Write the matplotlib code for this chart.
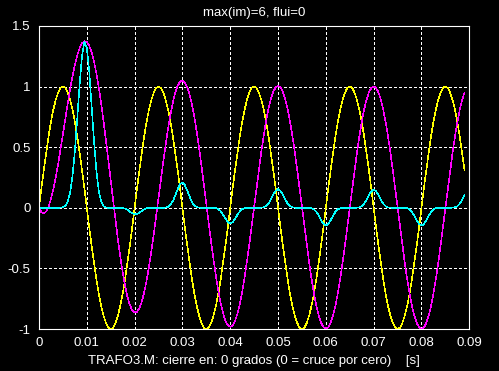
import numpy as np
import matplotlib
matplotlib.use("Agg")
import matplotlib.pyplot as plt

dt = 0.0005  # sampling step [s]

voltage = [
    0.0, 0.16, 0.31, 0.45, 0.59, 0.71, 0.81, 0.89, 0.95, 0.99, 1.0, 0.99, 0.95, 0.89, 0.81, 0.71, 0.59, 0.45, 0.31, 0.16,
    0.0, -0.16, -0.31, -0.45, -0.59, -0.71, -0.81, -0.89, -0.95, -0.99, -1.0, -0.99, -0.95, -0.89, -0.81, -0.71, -0.59, -0.45, -0.31, -0.16,
    0.0, 0.16, 0.31, 0.45, 0.59, 0.71, 0.81, 0.89, 0.95, 0.99, 1.0, 0.99, 0.95, 0.89, 0.81, 0.71, 0.59, 0.45, 0.31, 0.16,
    0.0, -0.16, -0.31, -0.45, -0.59, -0.71, -0.81, -0.89, -0.95, -0.99, -1.0, -0.99, -0.95, -0.89, -0.81, -0.71, -0.59, -0.45, -0.31, -0.16,
    0.0, 0.16, 0.31, 0.45, 0.59, 0.71, 0.81, 0.89, 0.95, 0.99, 1.0, 0.99, 0.95, 0.89, 0.81, 0.71, 0.59, 0.45, 0.31, 0.16,
    0.0, -0.16, -0.31, -0.45, -0.59, -0.71, -0.81, -0.89, -0.95, -0.99, -1.0, -0.99, -0.95, -0.89, -0.81, -0.71, -0.59, -0.45, -0.31, -0.16,
    0.0, 0.16, 0.31, 0.45, 0.59, 0.71, 0.81, 0.89, 0.95, 0.99, 1.0, 0.99, 0.95, 0.89, 0.81, 0.71, 0.59, 0.45, 0.31, 0.16,
    0.0, -0.16, -0.31, -0.45, -0.59, -0.71, -0.81, -0.89, -0.95, -0.99, -1.0, -0.99, -0.95, -0.89, -0.81, -0.71, -0.59, -0.45, -0.31, -0.16,
    0.0, 0.16, 0.31, 0.45, 0.59, 0.71, 0.81, 0.89, 0.95, 0.99, 1.0, 0.99, 0.95, 0.89, 0.81, 0.71, 0.59, 0.45, 0.31,
]

flux = [
    0.0, -0.037, -0.046, -0.030, 0.010, 0.072, 0.153, 0.251, 0.361, 0.482,
    0.607, 0.733, 0.858, 0.976, 1.085, 1.179, 1.258, 1.318, 1.358, 1.375,
    1.368, 1.338, 1.284, 1.208, 1.110, 0.994, 0.861, 0.713, 0.556, 0.391,
    0.223, 0.056, -0.107, -0.262, -0.405, -0.533, -0.644, -0.734, -0.801, -0.846,
    -0.865, -0.859, -0.829, -0.775, -0.698, -0.602, -0.488, -0.359, -0.218, -0.070,
    0.082, 0.234, 0.383, 0.525, 0.655, 0.771, 0.870, 0.949, 1.006, 1.040,
    1.050, 1.035, 0.996, 0.934, 0.850, 0.746, 0.625, 0.489, 0.342, 0.188,
    0.030, -0.127, -0.282, -0.428, -0.563, -0.683, -0.787, -0.870, -0.931, -0.969,
    -0.982, -0.971, -0.934, -0.875, -0.794, -0.693, -0.574, -0.441, -0.297, -0.144,
    0.011, 0.167, 0.319, 0.464, 0.597, 0.716, 0.817, 0.899, 0.958, 0.995,
    1.007, 0.994, 0.957, 0.897, 0.815, 0.712, 0.593, 0.459, 0.314, 0.160,
    0.004, -0.152, -0.305, -0.450, -0.585, -0.704, -0.806, -0.888, -0.948, -0.985,
    -0.998, -0.986, -0.949, -0.889, -0.807, -0.705, -0.586, -0.452, -0.307, -0.154,
    0.002, 0.157, 0.310, 0.455, 0.589, 0.708, 0.810, 0.892, 0.952, 0.989,
    1.001, 0.989, 0.952, 0.892, 0.810, 0.708, 0.589, 0.455, 0.310, 0.157,
    0.001, -0.155, -0.308, -0.453, -0.587, -0.706, -0.808, -0.890, -0.950, -0.987,
    -1.000, -0.988, -0.951, -0.891, -0.809, -0.707, -0.588, -0.454, -0.309, -0.156,
    0.000, 0.156, 0.309, 0.454, 0.588, 0.707, 0.809, 0.891, 0.951,
]

current = [
    0, 0, 0, 0, 0, 0, 0, 0, 0, 0.001,
    0.004, 0.017, 0.050, 0.124, 0.261, 0.467, 0.735, 1.018, 1.255, 1.369,
    1.320, 1.131, 0.848, 0.553, 0.306, 0.141, 0.052, 0.014, 0.002, 0.0,
    0, 0, 0, 0, 0, -0.002, -0.007, -0.017, -0.031, -0.046,
    -0.053, -0.051, -0.040, -0.025, -0.012, -0.004, -0.001, 0, 0, 0,
    0, 0, 0, 0.002, 0.008, 0.024, 0.056, 0.102, 0.154, 0.194,
    0.207, 0.188, 0.143, 0.091, 0.047, 0.019, 0.005, 0.001, 0, 0,
    0, 0, 0, 0, -0.003, -0.010, -0.028, -0.056, -0.089, -0.118,
    -0.130, -0.120, -0.091, -0.058, -0.029, -0.011, -0.003, 0, 0, 0,
    0, 0, 0, 0.001, 0.004, 0.014, 0.036, 0.070, 0.109, 0.142,
    0.155, 0.141, 0.108, 0.069, 0.035, 0.014, 0.004, 0.001, 0, 0,
    0, 0, 0, -0.001, -0.003, -0.013, -0.033, -0.064, -0.101, -0.133,
    -0.145, -0.134, -0.102, -0.065, -0.033, -0.013, -0.004, -0.001, 0, 0,
    0, 0, 0, 0.001, 0.004, 0.013, 0.034, 0.066, 0.104, 0.136,
    0.148, 0.136, 0.104, 0.066, 0.034, 0.013, 0.004, 0.001, 0, 0,
    0, 0, 0, -0.001, -0.004, -0.013, -0.033, -0.065, -0.103, -0.134,
    -0.147, -0.135, -0.104, -0.066, -0.033, -0.013, -0.004, -0.001, 0, 0,
    0, 0, 0, 0.001, 0.004, 0.013, 0.033, 0.066, 0.103,
]

xticks = [0, 0.01, 0.02, 0.03, 0.04, 0.05, 0.06, 0.07, 0.08, 0.09]
xticklabels = ["0", "0.01", "0.02", "0.03", "0.04", "0.05", "0.06", "0.07", "0.08", "0.09"]
yticks = [-1, -0.5, 0, 0.5, 1, 1.5]
yticklabels = ["-1", "-0.5", "0", "0.5", "1", "1.5"]

title = "max(im)=6, flui=0"
xlabel = "TRAFO3.M: cierre en: 0 grados (0 = cruce por cero)    [s]"

t = np.arange(len(voltage)) * dt

plt.rcParams['font.family'] = ['Liberation Sans', 'DejaVu Sans']

fig = plt.figure(figsize=(4.99, 3.71), dpi=100, facecolor='black')
ax = fig.add_axes([39 / 499, 42 / 371, 430.3 / 499, 303 / 371], facecolor='black')

lw = 0.4
ax.plot(t, voltage, color=(1, 1, 0), lw=lw, antialiased=False)
ax.plot(t, flux, color=(1, 0, 1), lw=lw, antialiased=False)
ax.plot(t, current, color=(0, 1, 1), lw=lw, antialiased=False)

ax.set_xlim(0, 0.09)
ax.set_ylim(-1, 1.5)
ax.set_xticks(xticks)
ax.set_xticklabels(xticklabels)
ax.set_yticks(yticks)
ax.set_yticklabels(yticklabels)

ax.grid(True, color='white', linestyle=(0, (4, 4)), linewidth=0.5, antialiased=False)
ax.set_axisbelow(True)
for s in ax.spines.values():
    s.set_color('white')
    s.set_linewidth(0.8)
ax.tick_params(colors='white', direction='in', length=0, labelsize=9.5, pad=6)

ax.set_title(title, color='white', fontsize=9.5, pad=7)
ax.set_xlabel(xlabel, color='white', fontsize=9.5, labelpad=4)

fig.savefig("out.png", dpi=100, facecolor='black')
